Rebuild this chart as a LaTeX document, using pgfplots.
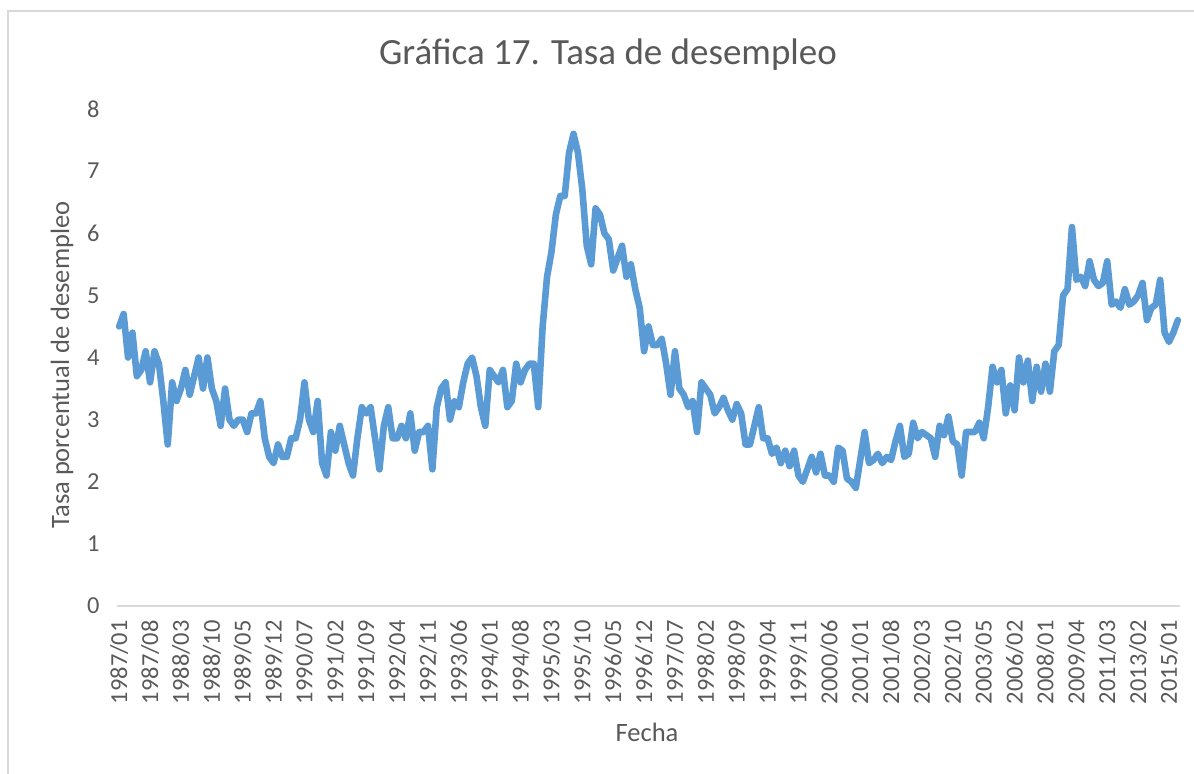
\documentclass[border=0pt]{standalone}
\usepackage{pgfplots}
\usepackage{pgfplotstable}
\pgfplotsset{compat=1.18}
\usepackage{fontspec}
\setmainfont{Carlito}
\definecolor{linecol}{HTML}{5B9BD5}
\definecolor{txtgray}{HTML}{595959}
\definecolor{axgray}{HTML}{D9D9D9}

\pgfplotstableread{
i v
0 4.5
1 4.7
2 4.0
3 4.4
4 3.7
5 3.8
6 4.1
7 3.6
8 4.1
9 3.9
10 3.3
11 2.6
12 3.6
13 3.3
14 3.5
15 3.8
16 3.4
17 3.7
18 4.0
19 3.5
20 4.0
21 3.5
22 3.3
23 2.9
24 3.5
25 3.0
26 2.9
27 3.0
28 3.0
29 2.8
30 3.1
31 3.1
32 3.3
33 2.7
34 2.4
35 2.3
36 2.6
37 2.4
38 2.4
39 2.7
40 2.7
41 3.0
42 3.6
43 3.0
44 2.8
45 3.3
46 2.3
47 2.1
48 2.8
49 2.5
50 2.9
51 2.6
52 2.3
53 2.1
54 2.7
55 3.2
56 3.1
57 3.2
58 2.7
59 2.2
60 2.9
61 3.2
62 2.7
63 2.7
64 2.9
65 2.7
66 3.1
67 2.5
68 2.8
69 2.8
70 2.9
71 2.2
72 3.2
73 3.5
74 3.6
75 3.0
76 3.3
77 3.2
78 3.6
79 3.9
80 4.0
81 3.7
82 3.2
83 2.9
84 3.8
85 3.7
86 3.6
87 3.8
88 3.2
89 3.3
90 3.9
91 3.6
92 3.8
93 3.9
94 3.9
95 3.2
96 4.5
97 5.3
98 5.7
99 6.3
100 6.6
101 6.6
102 7.3
103 7.6
104 7.3
105 6.7
106 5.8
107 5.5
108 6.4
109 6.3
110 6.0
111 5.9
112 5.4
113 5.6
114 5.8
115 5.3
116 5.5
117 5.1
118 4.8
119 4.1
120 4.5
121 4.2
122 4.2
123 4.3
124 3.9
125 3.4
126 4.1
127 3.5
128 3.4
129 3.2
130 3.3
131 2.8
132 3.6
133 3.5
134 3.4
135 3.1
136 3.2
137 3.35
138 3.15
139 3.0
140 3.25
141 3.1
142 2.6
143 2.6
144 2.9
145 3.2
146 2.7
147 2.7
148 2.45
149 2.55
150 2.3
151 2.5
152 2.25
153 2.5
154 2.1
155 2.0
156 2.2
157 2.4
158 2.15
159 2.45
160 2.1
161 2.1
162 2.0
163 2.55
164 2.5
165 2.05
166 2.0
167 1.9
168 2.35
169 2.8
170 2.3
171 2.35
172 2.45
173 2.3
174 2.4
175 2.35
176 2.65
177 2.9
178 2.4
179 2.45
180 2.95
181 2.7
182 2.8
183 2.75
184 2.7
185 2.4
186 2.9
187 2.75
188 3.05
189 2.65
190 2.6
191 2.1
192 2.8
193 2.8
194 2.8
195 2.95
196 2.7
197 3.2
198 3.85
199 3.6
200 3.8
201 3.1
202 3.55
203 3.15
204 4.0
205 3.6
206 3.95
207 3.3
208 3.85
209 3.45
210 3.9
211 3.45
212 4.1
213 4.2
214 5.0
215 5.1
216 6.1
217 5.25
218 5.3
219 5.15
220 5.55
221 5.25
222 5.15
223 5.2
224 5.55
225 4.85
226 4.9
227 4.8
228 5.1
229 4.85
230 4.9
231 5.0
232 5.2
233 4.6
234 4.8
235 4.85
236 5.25
237 4.4
238 4.25
239 4.4
240 4.6
}\datatable

\begin{document}
\begin{tikzpicture}
\path[use as bounding box] (-58.5pt,-84pt) rectangle (538.5pt,303pt);
\draw[axgray, line width=1pt] (-54.5pt,-120pt) -- (-54.5pt,297.5pt) -- (560pt,297.5pt);
\begin{axis}[
  at={(0,0)}, anchor=south west,
  scale only axis,
  width=531.5pt, height=248.5pt,
  xmin=-0.5, xmax=240.5,
  ymin=0, ymax=8,
  ytick={0,1,...,8},
  xtick={0,7,...,238},
  xticklabels={1987/01,1987/08,1988/03,1988/10,1989/05,1989/12,1990/07,1991/02,1991/09,1992/04,1992/11,1993/06,1994/01,1994/08,1995/03,1995/10,1996/05,1996/12,1997/07,1998/02,1998/09,1999/04,1999/11,2000/06,2001/01,2001/08,2002/03,2002/10,2003/05,2006/02,2008/01,2009/04,2011/03,2013/02,2015/01},
  axis line style={draw=none},
  tick style={draw=none},
  /pgf/number format/assume math mode=true,
  ticklabel style={font=\fontsize{12.2}{14}\selectfont, text=txtgray},
  yticklabel style={anchor=east, inner sep=0pt, xshift=-8.5pt},
  xticklabel style={rotate=90, anchor=east, inner sep=0pt, xshift=-7pt},
  clip=false,
]
\draw[axgray, line width=0.8pt] (rel axis cs:0,0) -- (rel axis cs:1,0);
\addplot[linecol, line width=3.3pt, line join=round, line cap=round] table[x=i, y=v] {\datatable};
\end{axis}
\node[text=txtgray, font=\fontsize{18.5}{22}\selectfont] at (245.5pt,275.5pt) {Gráfica 17. Tasa de desempleo};
\node[text=txtgray, font=\fontsize{13.25}{16}\selectfont, rotate=90] at (-27.5pt,120.5pt) {Tasa porcentual de desempleo};
\node[text=txtgray, font=\fontsize{13.25}{16}\selectfont] at (265pt,-63pt) {Fecha};
\end{tikzpicture}
\end{document}
